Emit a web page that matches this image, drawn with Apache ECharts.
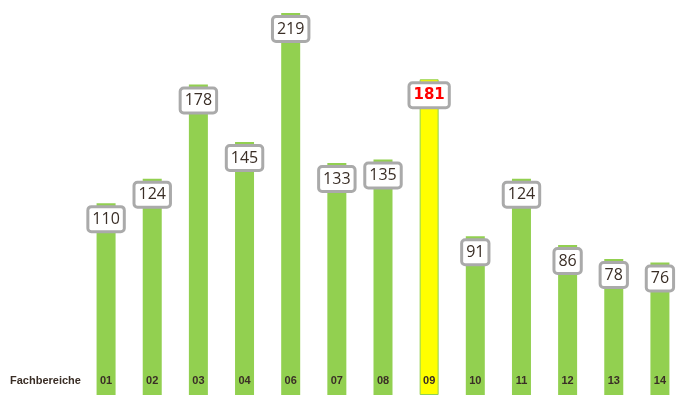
<!DOCTYPE html>
<html>
<head>
<meta charset="utf-8">
<script src="https://cdn.jsdelivr.net/npm/echarts@6/dist/echarts.min.js"></script>
<style>
  html, body { margin: 0; padding: 0; background: #fff; }
  #chart { width: 684px; height: 406px; }
</style>
</head>
<body>
<div id="chart"></div>
<script>
// Fachbereiche und Werte
const categories = ['01', '02', '03', '04', '06', '07', '08', '09', '10', '11', '12', '13', '14']
const values = [110, 124, 178, 145, 219, 133, 135, 181, 91, 124, 86, 78, 76]
const highlight = '09'

const green = '#92d050'
const textColor = '#3a2e26'

const chart = echarts.init(document.getElementById('chart'))

const data = categories.map((c, i) => {
  const hot = c === highlight
  return {
    value: values[i],
    itemStyle: hot ? { color: '#ffff00', borderColor: green, borderWidth: 1 } : { color: green },
    label: hot ? { color: '#ff0000', fontWeight: 'bold', fontFamily: 'DejaVu Sans', fontSize: 15 } : {}
  }
})

chart.setOption({
  animation: false,
  grid: { left: 83, right: 1, top: 13, bottom: 11, containLabel: false },
  xAxis: {
    type: 'category',
    data: categories,
    z: 10,
    axisLine: { show: false },
    axisTick: { show: false },
    axisLabel: {
      inside: true,
      margin: 14,
      verticalAlign: 'middle',
      color: textColor,
      fontFamily: 'Liberation Sans',
      fontWeight: 'bold',
      fontSize: 11
    }
  },
  yAxis: {
    type: 'value',
    min: 0,
    max: 219,
    show: false
  },
  graphic: [{
    type: 'text',
    left: 10,
    top: 375,
    style: {
      text: 'Fachbereiche',
      fill: textColor,
      font: 'bold 11px "Liberation Sans"'
    }
  }],
  series: [{
    type: 'bar',
    data: data,
    barWidth: 19,
    z: 2,
    label: {
      show: true,
      position: 'insideTop',
      distance: 5,
      color: textColor,
      fontFamily: 'Open Sans',
      fontSize: 16,
      lineHeight: 18,
      backgroundColor: '#fff',
      borderColor: '#aaa',
      borderWidth: 3,
      borderRadius: 2,
      padding: [2, 3, 2, 3]
    }
  }]
})
</script>
</body>
</html>
